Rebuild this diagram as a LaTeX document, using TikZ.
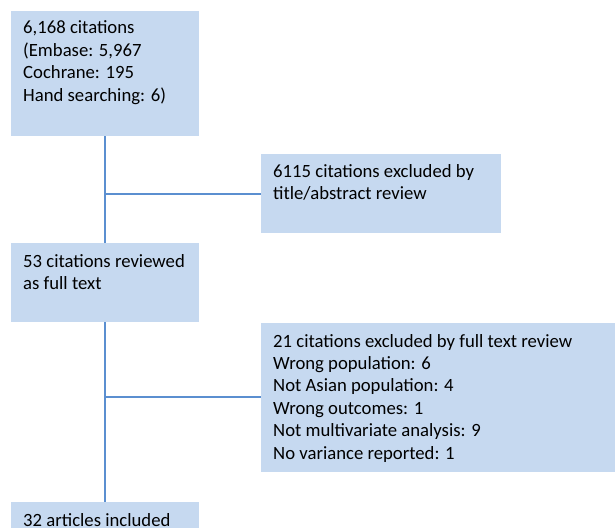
\documentclass[tikz,border=0pt]{standalone}
\usepackage{fontspec}
\setmainfont{Carlito}
\definecolor{boxfill}{HTML}{C6D9F0}
\definecolor{linecol}{HTML}{5B8FD0}
\tikzset{
  box/.style={draw=none, fill=boxfill, rectangle, inner sep=0pt, anchor=north west},
  txt/.style={anchor=base west, inner sep=0pt, align=left, font=\fontsize{18.7}{22.4}\selectfont},
  conn/.style={draw=linecol, line width=1.8pt}
}
\begin{document}
\begin{tikzpicture}[x=1pt,y=-1pt]
\useasboundingbox (0,0) rectangle (615,527);
\clip (0,0) rectangle (615,527);
\node[box, minimum width=188pt, minimum height=125pt] (b1) at (11,11) {};
\node[box, minimum width=240pt, minimum height=79pt] (b2) at (261,154) {};
\node[box, minimum width=188pt, minimum height=79pt] (b3) at (11,243) {};
\node[box, minimum width=360pt, minimum height=149pt] (b4) at (261,323) {};
\node[box, minimum width=188pt, minimum height=60pt] (b5) at (11,502) {};
\node[txt] (t1) at (23,101) {6,168 citations\\(Embase: 5,967\\Cochrane: 195\\Hand searching: 6)};
\node[txt] (t2) at (273,199.5) {6115 citations excluded by\\title/abstract review};
\node[txt] (t3) at (23,289.5) {53 citations reviewed\\as full text};
\node[txt] (t4) at (273,459) {21 citations excluded by full text review\\Wrong population: 6\\Not Asian population: 4\\Wrong outcomes: 1\\Not multivariate analysis: 9\\No variance reported: 1};
\node[txt] (t5) at (23,526) {32 articles included};
\coordinate (j1) at (b1.south |- b2.west);
\coordinate (j2) at (b3.south |- 0,397);
\draw[conn] (b1.south) -- (b3.north);
\draw[conn] (b3.south) -- (b5.north);
\draw[conn] (j1) -- (b2.west);
\draw[conn] (j2) -- (b4.west |- j2);
\end{tikzpicture}
\end{document}
